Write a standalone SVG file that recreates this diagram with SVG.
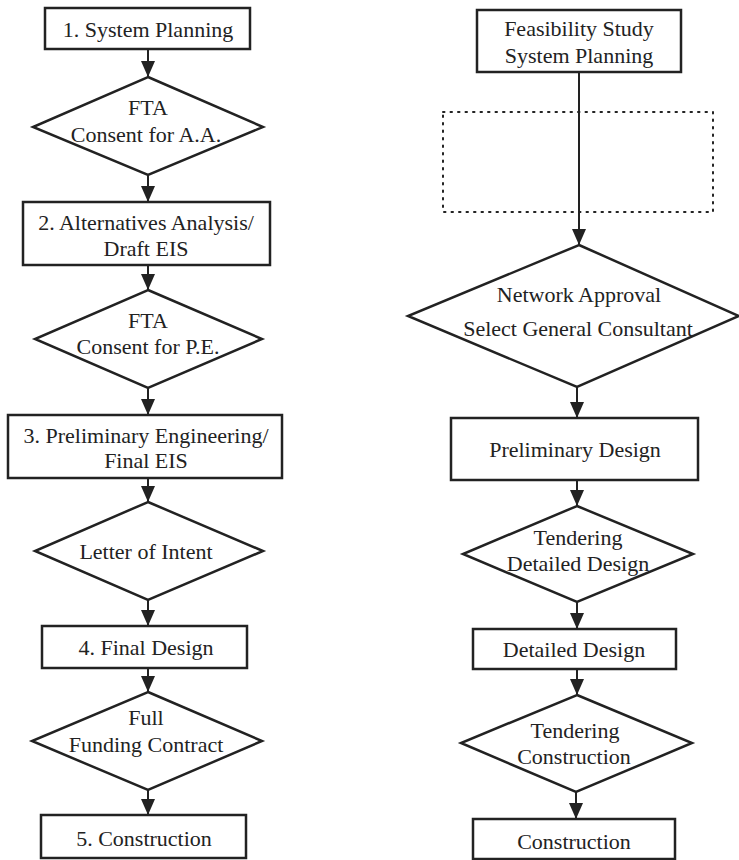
<svg xmlns="http://www.w3.org/2000/svg" width="739" height="860" viewBox="0 0 739 860">
<style>
.n{fill:#fff;stroke:#222;stroke-width:2.5}
.t{font-family:"Liberation Serif","Times New Roman",serif;font-size:22px;fill:#222;text-anchor:middle}
.c{stroke:#222;stroke-width:2;fill:none}
.d{fill:none;stroke:#222;stroke-width:2;stroke-dasharray:1.5 6;stroke-linecap:round}
</style>
<defs>
<marker id="a" viewBox="0 0 16 14" refX="16" refY="7" markerWidth="16" markerHeight="14" markerUnits="userSpaceOnUse" orient="auto">
<path d="M0,0 L16,7 L0,14 Z" fill="#222"/>
</marker>
</defs>
<rect width="739" height="860" fill="#fff"/>
<g id="dotted"><rect class="d" x="443" y="112" width="270" height="100"/></g>
<g id="connectors">
<line class="c" x1="148" y1="50" x2="148" y2="77" marker-end="url(#a)"/>
<line class="c" x1="148" y1="175" x2="148" y2="202" marker-end="url(#a)"/>
<line class="c" x1="148" y1="265" x2="148" y2="290" marker-end="url(#a)"/>
<line class="c" x1="148" y1="388" x2="148" y2="415" marker-end="url(#a)"/>
<line class="c" x1="148" y1="478" x2="148" y2="502" marker-end="url(#a)"/>
<line class="c" x1="148" y1="600" x2="148" y2="626" marker-end="url(#a)"/>
<line class="c" x1="148" y1="668" x2="148" y2="692" marker-end="url(#a)"/>
<line class="c" x1="148" y1="790" x2="148" y2="815" marker-end="url(#a)"/>
<line class="c" x1="579" y1="72" x2="579" y2="245" marker-end="url(#a)"/>
<line class="c" x1="577" y1="387" x2="577" y2="418" marker-end="url(#a)"/>
<line class="c" x1="577" y1="480" x2="577" y2="506" marker-end="url(#a)"/>
<line class="c" x1="577" y1="602" x2="577" y2="629" marker-end="url(#a)"/>
<line class="c" x1="577" y1="669" x2="577" y2="695" marker-end="url(#a)"/>
<line class="c" x1="576" y1="792" x2="576" y2="819" marker-end="url(#a)"/>
</g>
<g id="l1"><rect class="n" x="45" y="8" width="205" height="41"/><text class="t" x="148" y="37">1. System Planning</text></g>
<g id="l2"><polygon class="n" points="148,77 263,127 148,175 33,127"/><text class="t" x="148" y="115">FTA</text><text class="t" x="146" y="142">Consent for A.A.</text></g>
<g id="l3"><rect class="n" x="23" y="202" width="247" height="63"/><text class="t" x="146" y="230">2. Alternatives Analysis/</text><text class="t" x="146" y="256">Draft EIS</text></g>
<g id="l4"><polygon class="n" points="148,290 262,339 148,388 35,339"/><text class="t" x="148" y="328">FTA</text><text class="t" x="148" y="354">Consent for P.E.</text></g>
<g id="l5"><rect class="n" x="8" y="415" width="274" height="63"/><text class="t" x="146" y="443">3. Preliminary Engineering/</text><text class="t" x="146" y="468">Final EIS</text></g>
<g id="l6"><polygon class="n" points="148,502 263,551 148,600 35,551"/><text class="t" x="146" y="559">Letter of Intent</text></g>
<g id="l7"><rect class="n" x="42" y="626" width="205" height="42"/><text class="t" x="146" y="655">4. Final Design</text></g>
<g id="l8"><polygon class="n" points="148,692 262,741 148,790 32,741"/><text class="t" x="146" y="725">Full</text><text class="t" x="146" y="752">Funding Contract</text></g>
<g id="l9"><rect class="n" x="41" y="815" width="205" height="43"/><text class="t" x="144" y="846">5. Construction</text></g>
<g id="r1"><rect class="n" x="477" y="10" width="204" height="62"/><text class="t" x="579" y="36">Feasibility Study</text><text class="t" x="579" y="63">System Planning</text></g>
<g id="r2"><polygon class="n" points="579,245 739,316 577,387 408,316"/><text class="t" x="579" y="302">Network Approval</text><text class="t" x="578" y="336">Select General Consultant</text></g>
<g id="r3"><rect class="n" x="451" y="418" width="247" height="62"/><text class="t" x="575" y="457">Preliminary Design</text></g>
<g id="r4"><polygon class="n" points="577,506 693,554 577,602 463,554"/><text class="t" x="578" y="545">Tendering</text><text class="t" x="578" y="571">Detailed Design</text></g>
<g id="r5"><rect class="n" x="473" y="629" width="203" height="40"/><text class="t" x="574" y="657">Detailed Design</text></g>
<g id="r6"><polygon class="n" points="577,695 692,743 576,792 461,743"/><text class="t" x="575" y="738">Tendering</text><text class="t" x="574" y="764">Construction</text></g>
<g id="r7"><rect class="n" x="473" y="819" width="202" height="40"/><text class="t" x="574" y="849">Construction</text></g>
</svg>
